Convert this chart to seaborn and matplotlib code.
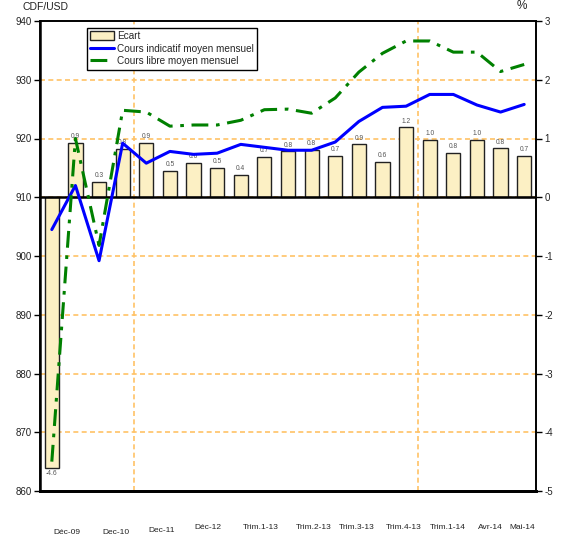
import numpy as np
import pandas as pd
import matplotlib
matplotlib.use("Agg")
import matplotlib.pyplot as plt
import seaborn as sns
from matplotlib.lines import Line2D
from matplotlib.patches import Patch

# 21 periods, Dec-09 .. Mai-14
periods = list(range(21))
ecart = [-4.6, 0.92, 0.26, 0.82, 0.92, 0.45, 0.58, 0.50, 0.38, 0.69, 0.78,
         0.80, 0.70, 0.90, 0.60, 1.19, 0.97, 0.76, 0.97, 0.83, 0.71]
cours_indicatif = [904.5, 912.0, 899.2, 919.2, 915.8, 917.8, 917.3, 917.5, 919.0, 918.5, 918.0,
                   918.0, 919.4, 922.9, 925.3, 925.5, 927.5, 927.5, 925.7, 924.5, 925.8]
cours_libre = [865.0, 920.0, 901.8, 924.8, 924.5, 922.1, 922.3, 922.3, 923.1, 924.9, 925.0,
               924.3, 926.9, 931.3, 934.5, 936.6, 936.6, 934.7, 934.7, 931.4, 932.6]
tick_labels = ["Déc-09", "Dec-10", "Dec-11", "Déc-12", "Trim.1-13", "Trim.2-13",
               "Trim.3-13", "Trim.4-13", "Trim.1-14", "Avr-14", "Mai-14"]

# label placement (layout only)
tick_pos = [0.63, 2.72, 4.67, 6.62, 8.84, 11.07, 12.93, 14.88, 16.75, 18.57, 19.92]
tick_drop = [42, 42, 39, 36.5, 36.5, 36.5, 36.5, 36.5, 36.5, 36.5, 36.5]

df = pd.DataFrame({"period": periods, "ecart": ecart,
                   "indicatif": cours_indicatif, "libre": cours_libre})

sns.set_theme(style="white")
plt.rcParams["font.family"] = ["Liberation Sans Narrow", "Liberation Sans", "DejaVu Sans"]
plt.rcParams["axes.unicode_minus"] = False

ORANGE = "#FFC266"
BLUE = "#0000FF"
GREEN = "#008000"
CREAM = "#FCF0C4"
GRID_DASH = (0, (3, 2))
LIBRE_DASH = (5.5, 2.5, 1.2, 2.5)

fig = plt.figure(figsize=(5.63, 5.42), dpi=100)
ax = fig.add_axes([40 / 563, 1 - 491 / 542, 496 / 563, 470 / 542])
ax2 = ax.twinx()

# bars (percent, right axis)
sns.barplot(data=df, x="period", y="ecart", ax=ax2, color=CREAM, width=0.6,
            edgecolor="#222222", linewidth=1.0, saturation=1, zorder=2)
for p, v in zip(ax2.patches, ecart):
    cx = p.get_x() + p.get_width() / 2
    if v >= 0:
        ax2.annotate(f"{v:.1f}", (cx, v), xytext=(0, 2), textcoords="offset points",
                     ha="center", va="bottom", fontsize=4.8, color="#555555")
    else:
        ax2.annotate(f"{v:.1f}", (cx, v), xytext=(0, -2), textcoords="offset points",
                     ha="center", va="top", fontsize=4.8, color="#555555")
ax2.axhline(0, color="black", lw=1.8, zorder=3)
ax2.set_ylim(-5, 3)
ax2.set_yticks(range(-5, 4))
ax2.set_ylabel("")
ax2.set_xlabel("")

# lines (CDF/USD, left axis) on top of bars
ax.set_zorder(ax2.get_zorder() + 1)
ax.patch.set_visible(False)
sns.lineplot(data=df, x="period", y="indicatif", ax=ax, color=BLUE, lw=2.2)
sns.lineplot(data=df, x="period", y="libre", ax=ax, color=GREEN, lw=2.2)
ax.lines[-1].set_dashes(LIBRE_DASH)
ax.set_ylim(860, 940)
ax.set_yticks(range(860, 950, 10))
ax.set_xlim(-0.5, 20.5)
ax.set_xlabel("")
ax.set_ylabel("")
ax.set_xticks([])
ax2.set_xticks([])

# grid
for yv in range(870, 940, 10):
    ax2.axhline((yv - 910) / 10, color=ORANGE, lw=1.2, ls=GRID_DASH, zorder=1)
for xv in [3.5, 15.5]:
    ax2.axvline(xv, color=ORANGE, lw=1.2, ls=GRID_DASH, zorder=1)

for a in (ax, ax2):
    for s in a.spines.values():
        s.set_color("black")
        s.set_linewidth(1.2)
    a.spines["bottom"].set_linewidth(2)
    a.tick_params(axis="y", length=4, width=1, color="black", labelsize=7,
                  labelcolor="#222222", pad=2)
ax.spines["left"].set_linewidth(1.8)
ax.tick_params(axis="y", left=True)
ax2.tick_params(axis="y", right=True)

for lab, x, d in zip(tick_labels, tick_pos, tick_drop):
    ax.annotate(lab, (x, 0), xycoords=("data", "axes fraction"),
                xytext=(0, -d * 0.72), textcoords="offset points",
                ha="center", va="center", fontsize=6, color="#222222")

fig.text(22 / 563, 1 - 7 / 542, "CDF/USD", fontsize=7.5, color="#222222", va="center")
fig.text(522 / 563, 1 - 6 / 542, "%", fontsize=8.5, color="#222222", va="center", ha="center")

handles = [Patch(facecolor=CREAM, edgecolor="#222222", lw=1),
           Line2D([], [], color=BLUE, lw=2.2),
           Line2D([], [], color=GREEN, lw=2.2, dashes=LIBRE_DASH)]
leg = ax.legend(handles, ["Ecart", "Cours indicatif moyen mensuel", "Cours libre moyen mensuel"],
                loc="upper left", bbox_to_anchor=(0.094, 0.986), fontsize=7.2,
                frameon=True, fancybox=False, edgecolor="black", framealpha=1,
                borderpad=0.35, labelspacing=0.25, handlelength=2.4,
                handleheight=0.9, handletextpad=0.3, borderaxespad=0)
leg.get_frame().set_linewidth(1.0)

fig.savefig("out.png", dpi=100)
